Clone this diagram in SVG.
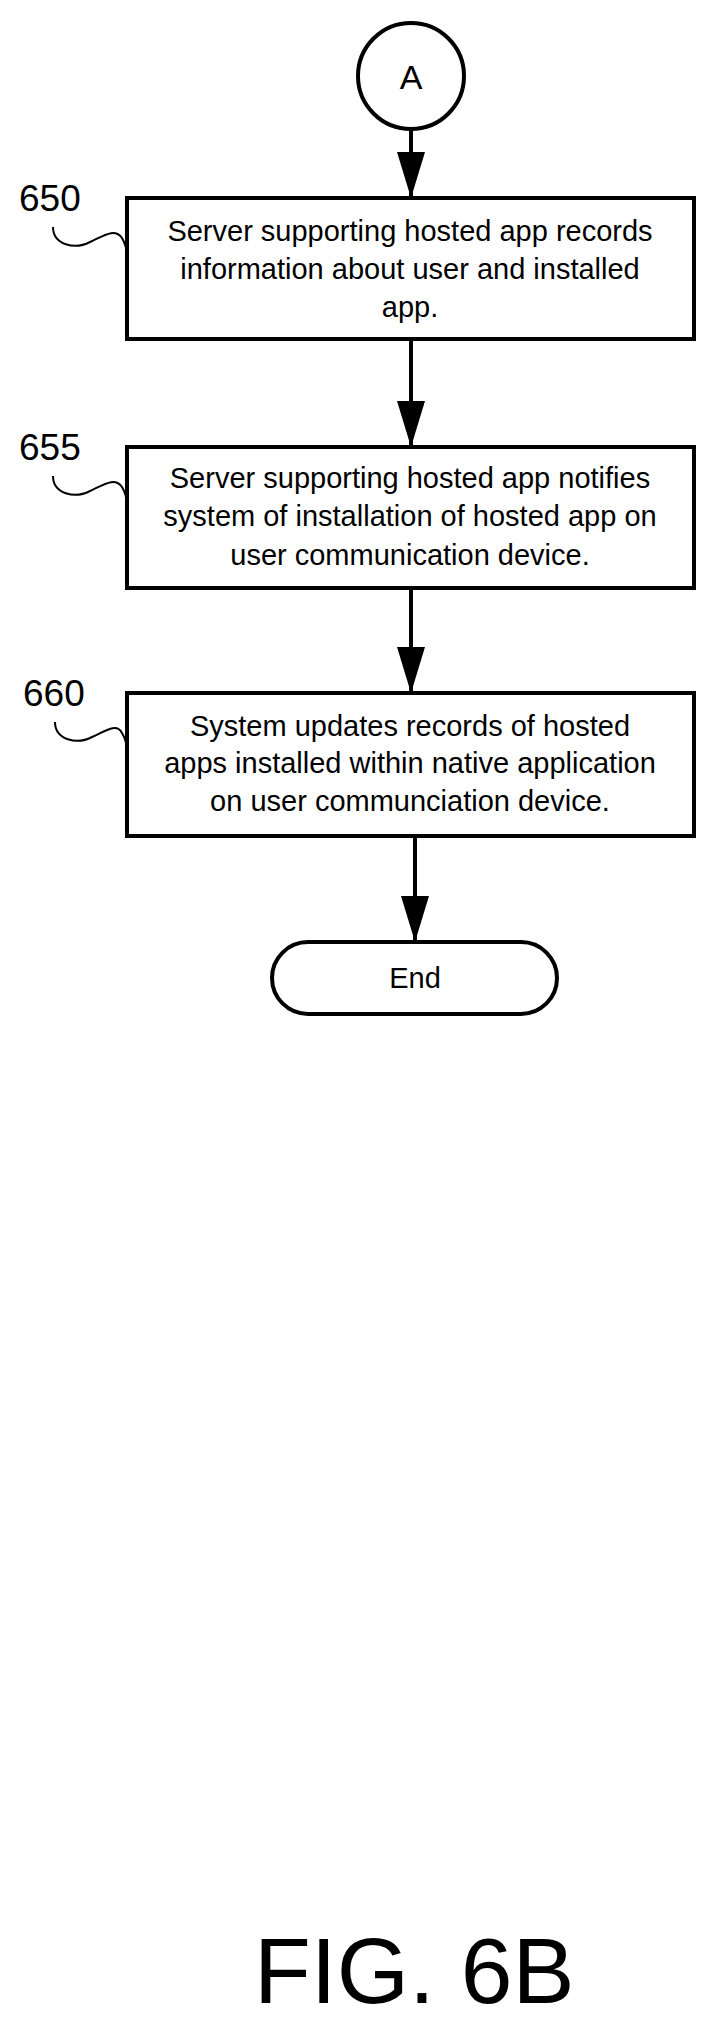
<svg xmlns="http://www.w3.org/2000/svg" width="714" height="2025" viewBox="0 0 714 2025">
<style>
.s{fill:#fff;stroke:#000;stroke-width:4}
.t{font-family:"Liberation Sans",Arial,sans-serif;font-size:29px;text-anchor:middle;fill:#000}
.l{font-family:"Liberation Sans",Arial,sans-serif;font-size:37px;fill:#000}
.c{fill:none;stroke:#000;stroke-width:4}
.w{fill:none;stroke:#000;stroke-width:2}
</style>
<defs>
<marker id="ah" markerWidth="46" markerHeight="28" refX="46" refY="14" orient="auto" markerUnits="userSpaceOnUse" viewBox="0 0 46 28">
<path d="M0,0 L46,14 L0,28 Z" fill="#000"/>
</marker>
</defs>
<rect width="714" height="2025" fill="#fff"/>
<g id="connectors">
<line class="c" x1="411" y1="129" x2="411" y2="198" marker-end="url(#ah)"/>
<line class="c" x1="411" y1="339" x2="411" y2="447" marker-end="url(#ah)"/>
<line class="c" x1="411" y1="588" x2="411" y2="693" marker-end="url(#ah)"/>
<line class="c" x1="415" y1="836" x2="415" y2="942" marker-end="url(#ah)"/>
</g>
<g id="nodeA">
<circle class="s" cx="411" cy="76" r="53"/>
<text class="t" x="411" y="89" style="font-size:34px">A</text>
</g>
<g id="node650">
<rect class="s" x="127" y="198" width="567" height="141"/>
<text class="t" x="410" y="241">Server supporting hosted app records</text>
<text class="t" x="410" y="279">information about user and installed</text>
<text class="t" x="410" y="317">app.</text>
<text class="l" x="19" y="211">650</text>
<path class="w" d="M53,227 C53,245 75,250 90,242 C105,235 115,228 122,238 C125,243 127,250 127,257"/>
</g>
<g id="node655">
<rect class="s" x="127" y="447" width="567" height="141"/>
<text class="t" x="410" y="488">Server supporting hosted app notifies</text>
<text class="t" x="410" y="526">system of installation of hosted app on</text>
<text class="t" x="410" y="565">user communication device.</text>
<text class="l" x="19" y="460">655</text>
<path class="w" d="M53,476 C53,494 75,499 90,491 C105,484 115,477 122,487 C125,492 127,499 127,506"/>
</g>
<g id="node660">
<rect class="s" x="127" y="693" width="567" height="143"/>
<text class="t" x="410" y="736">System updates records of hosted</text>
<text class="t" x="410" y="773">apps installed within native application</text>
<text class="t" x="410" y="811">on user communciation device.</text>
<text class="l" x="23" y="706">660</text>
<path class="w" d="M55,722 C55,740 77,745 92,737 C107,730 117,723 122,733 C125,738 127,745 127,752"/>
</g>
<g id="nodeEnd">
<rect class="s" x="272" y="942" width="285" height="72" rx="36"/>
<text class="t" x="415" y="988">End</text>
</g>
<text x="254" y="2003" font-family="Liberation Sans, Arial, sans-serif" font-size="93" fill="#000">FIG. 6B</text>
</svg>
